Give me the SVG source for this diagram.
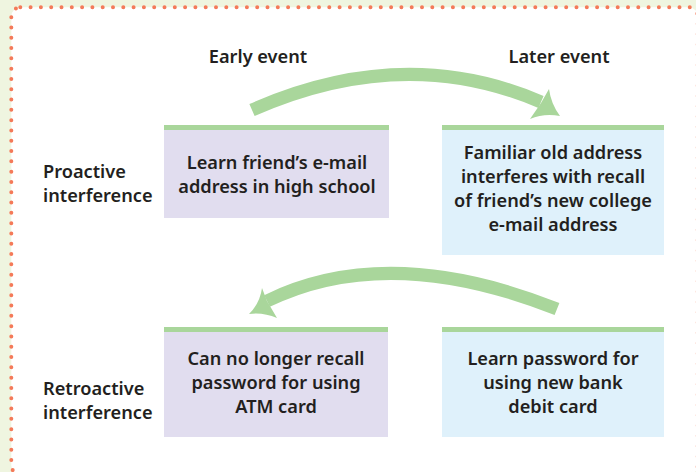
<svg xmlns="http://www.w3.org/2000/svg" width="696" height="472" viewBox="0 0 696 472">
<defs>
<style>
.bg{fill:#eff5e0}
.panel{fill:#ffffff}
.dots{fill:none;stroke:#f47a59;stroke-width:4;stroke-linecap:round;stroke-dasharray:0 10.3}
.purple{fill:#e1ddef}
.blue{fill:#dff1fb}
.bar{fill:#a9d69b}
.band{fill:none;stroke:#a9d69b;stroke-width:13}
.head{fill:#a9d69b}
text{font-family:"Noto Sans","Liberation Sans",sans-serif;font-weight:600;font-size:18.2px;fill:#231f20}
.c{text-anchor:middle}
</style>
</defs>
<rect class="bg" x="0" y="0" width="696" height="472"/>
<rect class="panel" x="11.3" y="7.3" width="686.5" height="467" rx="9"/>
<rect class="dots" x="11.3" y="7.3" width="686.5" height="467" rx="9"/>

<g id="header-early"><text class="c" x="258" y="63">Early event</text></g>
<g id="header-later"><text class="c" x="559" y="63">Later event</text></g>

<g id="label-proactive">
<text x="43" y="178">Proactive</text>
<text x="43" y="202">interference</text>
</g>
<g id="label-retroactive">
<text x="43" y="395">Retroactive</text>
<text x="43" y="419">interference</text>
</g>

<g id="node-learn-email">
<rect class="purple" x="164" y="125" width="225" height="93"/>
<rect class="bar" x="164" y="125" width="225" height="5"/>
<text class="c" x="277" y="169">Learn friend’s e-mail</text>
<text class="c" x="277" y="193">address in high school</text>
</g>

<g id="node-familiar">
<rect class="blue" x="442" y="125" width="222" height="130"/>
<rect class="bar" x="442" y="125" width="222" height="5"/>
<text class="c" x="553" y="159">Familiar old address</text>
<text class="c" x="553" y="183">interferes with recall</text>
<text class="c" x="553" y="207">of friend’s new college</text>
<text class="c" x="553" y="231">e-mail address</text>
</g>

<g id="node-cannot-recall">
<rect class="purple" x="164" y="327" width="224" height="110"/>
<rect class="bar" x="164" y="327" width="224" height="5"/>
<text class="c" x="276" y="365">Can no longer recall</text>
<text class="c" x="276" y="389">password for using</text>
<text class="c" x="276" y="413">ATM card</text>
</g>

<g id="node-learn-password">
<rect class="blue" x="442" y="327" width="222" height="110"/>
<rect class="bar" x="442" y="327" width="222" height="5"/>
<text class="c" x="553" y="365">Learn password for</text>
<text class="c" x="553" y="389">using new bank</text>
<text class="c" x="553" y="413">debit card</text>
</g>

<g id="connectors">
<path class="band" d="M252,110 Q404,43 541,102"/>
<path class="head" d="M549,89 Q551,104 560,116 Q544,113 530,119 L541,103 Z"/>
<path class="band" d="M557,309 Q388,242 267,301"/>
<path class="head" d="M262,288 Q260,303 249,314 Q263,312 277,318 L267,301 Z"/>
</g>
</svg>
